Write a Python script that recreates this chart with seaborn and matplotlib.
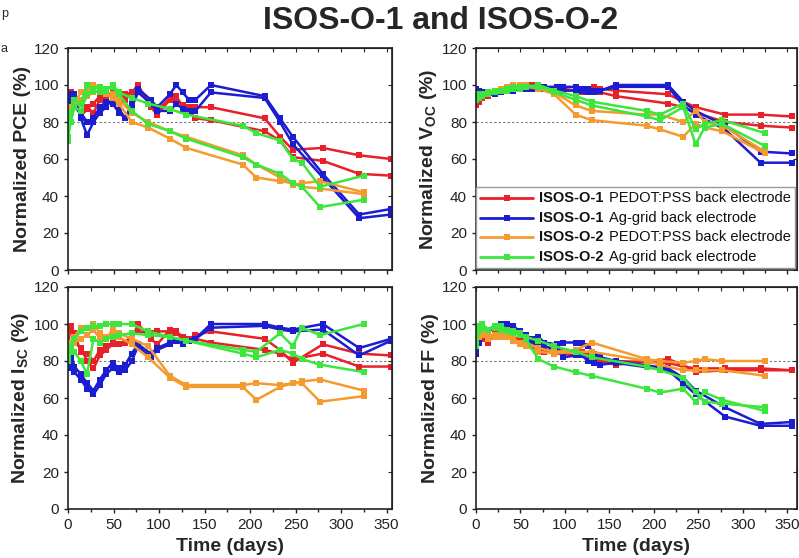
## Normalized PV parameters, ISOS-O-1 vs ISOS-O-2

import seaborn as sns
import matplotlib
matplotlib.use("Agg")
import matplotlib.pyplot as plt
import pandas as pd
from matplotlib.lines import Line2D
from matplotlib.ticker import MultipleLocator
from matplotlib.offsetbox import AnchoredOffsetbox, HPacker, VPacker, TextArea, DrawingArea

# time grids (days)
days_o1 = [0, 3, 7, 14, 21, 28, 35, 42, 49, 56, 63, 70, 77, 91, 98, 112, 119, 126, 133, 140, 157, 216, 233, 247, 280, 320, 355]
days_o2 = [0, 3, 7, 14, 21, 28, 35, 42, 49, 56, 70, 88, 112, 130, 192, 207, 233, 247, 257, 277, 325]

## PCE
pce_red_a = [88, 96, 90, 86, 88, 85, 92, 94, 95, 92, 95, 96, 100, 88, 84, 92, 93, 89, 88, 88, 88, 82, 72, 65, 66, 62, 60]
pce_red_b = [90, 85, 92, 83, 87, 90, 94, 93, 96, 94, 92, 96, 97, 90, 86, 93, 94, 88, 86, 82, 81, 75, 70, 61, 59, 52, 51]
pce_blue_a = [88, 95, 95, 82, 73, 80, 85, 88, 93, 87, 82, 90, 98, 92, 88, 95, 100, 96, 92, 92, 100, 94, 82, 72, 52, 30, 33]
pce_blue_b = [90, 92, 88, 85, 80, 82, 88, 91, 90, 85, 82, 88, 96, 90, 86, 86, 90, 87, 86, 86, 96, 93, 80, 68, 50, 28, 30]
pce_orange_a = [80, 88, 90, 96, 97, 100, 99, 96, 95, 92, 85, 80, 75, 72, 62, 57, 50, 46, 47, 48, 42]
pce_orange_b = [78, 85, 88, 92, 94, 96, 97, 95, 93, 90, 80, 77, 71, 66, 57, 50, 48, 47, 45, 44, 41]
pce_green_a = [70, 85, 92, 90, 100, 98, 99, 97, 100, 96, 93, 90, 87, 84, 78, 74, 70, 60, 58, 45, 51]
pce_green_b = [72, 80, 88, 86, 95, 97, 96, 98, 99, 95, 86, 79, 75, 71, 61, 57, 52, 47, 45, 34, 38]

## Voc
voc_red_a = [90, 92, 93, 95, 96, 97, 97, 98, 99, 99, 100, 100, 99, 98, 98, 97, 97, 98, 99, 98, 97, 95, 91, 88, 84, 84, 83]
voc_red_b = [89, 91, 93, 94, 96, 96, 97, 97, 98, 99, 99, 100, 99, 98, 97, 97, 96, 97, 96, 96, 94, 90, 88, 85, 80, 78, 77]
voc_blue_a = [98, 97, 96, 95, 96, 97, 97, 98, 98, 99, 99, 99, 99, 99, 99, 99, 98, 98, 97, 97, 100, 100, 91, 86, 78, 64, 63]
voc_blue_b = [96, 95, 94, 95, 95, 96, 97, 97, 98, 98, 98, 98, 98, 98, 97, 97, 97, 96, 96, 97, 99, 99, 89, 84, 76, 58, 58]
voc_orange_a = [93, 94, 95, 96, 97, 98, 99, 100, 100, 100, 99, 96, 89, 86, 84, 84, 80, 86, 80, 78, 64]
voc_orange_b = [92, 93, 95, 96, 97, 98, 99, 99, 99, 99, 98, 95, 84, 81, 78, 76, 72, 79, 77, 75, 63]
voc_green_a = [95, 94, 95, 96, 97, 97, 98, 99, 99, 99, 100, 97, 94, 91, 86, 84, 90, 76, 79, 81, 74]
voc_green_b = [92, 93, 94, 95, 96, 97, 97, 98, 98, 99, 99, 96, 92, 89, 83, 81, 88, 68, 77, 79, 67]

## Isc
isc_red_a = [97, 99, 90, 87, 80, 76, 83, 86, 89, 89, 90, 92, 100, 92, 89, 97, 96, 93, 92, 94, 96, 92, 86, 79, 89, 84, 83]
isc_red_b = [88, 99, 95, 85, 84, 80, 86, 88, 90, 89, 90, 94, 96, 95, 96, 96, 95, 92, 92, 92, 90, 86, 84, 81, 84, 77, 77]
isc_blue_a = [78, 85, 77, 73, 68, 64, 70, 75, 79, 76, 78, 84, 89, 84, 87, 90, 91, 90, 91, 92, 100, 100, 98, 97, 100, 87, 92]
isc_blue_b = [76, 82, 74, 70, 65, 62, 67, 73, 76, 74, 75, 80, 88, 82, 86, 89, 91, 89, 91, 92, 98, 99, 97, 96, 97, 83, 91]
isc_orange_a = [85, 90, 93, 98, 98, 100, 95, 92, 97, 95, 92, 88, 72, 67, 67, 68, 67, 68, 69, 70, 64]
isc_orange_b = [84, 88, 90, 92, 94, 97, 92, 93, 95, 93, 89, 82, 71, 66, 66, 59, 66, 68, 68, 58, 61]
isc_green_a = [80, 88, 92, 96, 98, 99, 99, 100, 100, 100, 100, 96, 93, 91, 86, 85, 95, 88, 98, 94, 100]
isc_green_b = [82, 86, 85, 80, 73, 92, 90, 92, 93, 94, 95, 94, 93, 91, 84, 82, 86, 84, 81, 78, 74]

## FF
ff_red_a = [88, 92, 94, 90, 96, 95, 94, 93, 92, 90, 88, 86, 85, 85, 84, 83, 84, 83, 82, 80, 78, 81, 78, 74, 75, 75, 75]
ff_red_b = [90, 93, 92, 92, 94, 94, 93, 92, 90, 89, 88, 87, 86, 86, 85, 85, 85, 84, 82, 81, 80, 79, 77, 76, 76, 76, 75]
ff_blue_a = [84, 92, 96, 97, 99, 100, 100, 99, 96, 94, 92, 93, 90, 89, 90, 90, 90, 88, 84, 82, 80, 76, 71, 64, 55, 46, 47]
ff_blue_b = [86, 90, 94, 96, 98, 98, 98, 96, 94, 92, 90, 89, 88, 86, 82, 83, 83, 80, 79, 78, 79, 75, 68, 62, 50, 45, 45]
ff_orange_a = [92, 94, 96, 95, 93, 93, 94, 92, 90, 90, 87, 85, 86, 90, 81, 80, 79, 80, 81, 80, 80]
ff_orange_b = [90, 93, 94, 92, 94, 95, 93, 91, 89, 88, 85, 84, 85, 85, 80, 78, 75, 75, 75, 75, 72]
ff_green_a = [90, 99, 100, 97, 99, 99, 97, 96, 95, 92, 81, 77, 74, 72, 65, 63, 65, 58, 63, 59, 53]
ff_green_b = [88, 96, 98, 97, 98, 97, 96, 95, 94, 93, 91, 88, 85, 82, 77, 75, 71, 63, 58, 57, 55]

series_names = ["O1 PEDOT", "O1 Ag", "O2 PEDOT", "O2 Ag"]
colors = ["#e8202a", "#1c1cd0", "#f59a2e", "#3ce63c"]
legend_bold = ["ISOS-O-1", "ISOS-O-1", "ISOS-O-2", "ISOS-O-2"]
legend_rest = ["PEDOT:PSS back electrode", "Ag-grid back electrode",
               "PEDOT:PSS back electrode", "Ag-grid back electrode"]

panels = {
    "PCE": [pce_red_a, pce_red_b, pce_blue_a, pce_blue_b, pce_orange_a, pce_orange_b, pce_green_a, pce_green_b],
    "VOC": [voc_red_a, voc_red_b, voc_blue_a, voc_blue_b, voc_orange_a, voc_orange_b, voc_green_a, voc_green_b],
    "ISC": [isc_red_a, isc_red_b, isc_blue_a, isc_blue_b, isc_orange_a, isc_orange_b, isc_green_a, isc_green_b],
    "FF": [ff_red_a, ff_red_b, ff_blue_a, ff_blue_b, ff_orange_a, ff_orange_b, ff_green_a, ff_green_b],
}
ylabels = {
    "PCE": "Normalized PCE (%)",
    "VOC": r"Normalized V$_\mathbf{OC}$ (%)",
    "ISC": r"Normalized I$_\mathbf{SC}$ (%)",
    "FF": "Normalized FF (%)",
}

rows = []
for key, curves in panels.items():
    for i, vals in enumerate(curves):
        s = series_names[i // 2]
        days = days_o1 if i < 4 else days_o2
        for d, v in zip(days, vals):
            rows.append({"panel": key, "series": s, "device": i, "day": d, "value": v})
df = pd.DataFrame(rows)

sns.set_style("ticks")
plt.rcParams["font.family"] = ["Liberation Sans", "DejaVu Sans"]
plt.rcParams["mathtext.fontset"] = "custom"
plt.rcParams["mathtext.bf"] = "Liberation Sans:bold"
plt.rcParams["mathtext.rm"] = "Liberation Sans"

fig = plt.figure(figsize=(7.99, 5.58), dpi=100)
W, H = 799, 558
boxes = {
    "PCE": (68, 48, 392, 270),
    "VOC": (476, 48, 797, 270),
    "ISC": (68, 287, 392, 509),
    "FF": (476, 287, 797, 509),
}

for key, (x0, y0, x1, y1) in boxes.items():
    ax = fig.add_axes([x0 / W, 1 - y1 / H, (x1 - x0) / W, (y1 - y0) / H])
    sub = df[df["panel"] == key]
    sns.lineplot(data=sub, x="day", y="value", hue="series", units="device",
                 estimator=None, sort=False, hue_order=series_names, palette=colors,
                 marker="s", markersize=4.8, markeredgewidth=0, lw=1.8,
                 legend=False, ax=ax)
    xmax = 356 if x0 < 400 else 361
    ax.axhline(80, color="#777777", ls=(0, (2, 2)), lw=0.8, zorder=0)
    ax.set_xlim(0, xmax)
    ax.set_ylim(0, 120)
    ax.xaxis.set_major_locator(MultipleLocator(50))
    ax.xaxis.set_minor_locator(MultipleLocator(25))
    ax.yaxis.set_major_locator(MultipleLocator(20))
    ax.tick_params(axis="both", which="both", direction="out", labelsize=11, width=1, length=3,
                   colors="#222222")
    ax.tick_params(which="minor", length=2)
    sec_x = ax.secondary_xaxis("top")
    sec_x.xaxis.set_major_locator(MultipleLocator(25))
    sec_x.tick_params(direction="in", length=3, labeltop=False)
    sec_y = ax.secondary_yaxis("right")
    sec_y.yaxis.set_major_locator(MultipleLocator(20))
    sec_y.tick_params(direction="in", length=3, labelright=False)
    for sp in ax.spines.values():
        sp.set_visible(True)
        sp.set_linewidth(1.2)
        sp.set_color("#222222")
    ax.set_ylabel(ylabels[key], fontsize=14, fontweight="bold", labelpad=2)
    if key in ("ISC", "FF"):
        ax.set_xlabel("Time (days)", fontsize=14, fontweight="bold", labelpad=4)
        ax.set_xticks(range(0, 351, 50))
    else:
        ax.set_xlabel("")
        ax.tick_params(axis="x", labelbottom=False)

    if key == "VOC":
        entries = []
        for c, b, r in zip(colors, legend_bold, legend_rest):
            da = DrawingArea(38, 10, 0, 0)
            da.add_artist(Line2D([0, 19, 38], [5, 5, 5], color=c, lw=2, marker="s",
                                 markersize=4.5, markeredgewidth=0, markevery=[1]))
            tb = TextArea(b, textprops=dict(fontsize=10.5, fontweight="bold", color="#111111"))
            tr = TextArea(r, textprops=dict(fontsize=10.5, color="#111111"))
            entries.append(HPacker(children=[da, tb, tr], pad=0, sep=4, align="center"))
        pack = VPacker(children=entries, pad=0, sep=4, align="left")
        box = AnchoredOffsetbox(loc="lower right", child=pack, pad=0.3, borderpad=0.15,
                                frameon=True, bbox_to_anchor=(1, 0), bbox_transform=ax.transAxes)
        box.patch.set_edgecolor("#999999")
        box.patch.set_facecolor("white")
        ax.add_artist(box)

fig.text(0.551, 0.963, "ISOS-O-1 and ISOS-O-2", ha="center", va="center",
         fontsize=23, fontweight="bold")
fig.text(0.001, 0.975, "p", fontsize=9, va="center")
fig.text(0.001, 0.912, "a", fontsize=9, va="center")

fig.savefig("out.png", dpi=100)
